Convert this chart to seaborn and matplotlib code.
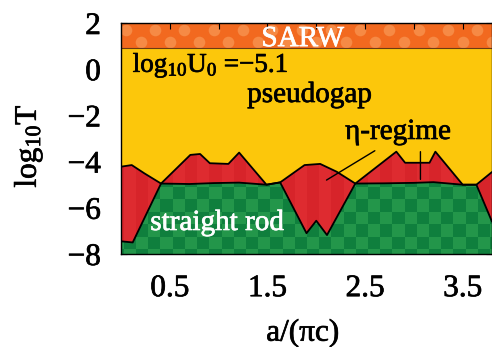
import numpy as np
import matplotlib
matplotlib.use("Agg")
import matplotlib.pyplot as plt
import matplotlib.patheffects as pe
import seaborn as sns

# Phase diagram: log10 T versus a/(pi c) at log10 U0 = -5.1
# upper edge of the eta-regime (red) region
x_eta = [0.00, 0.11, 0.24, 0.41, 0.71, 0.81, 0.91, 1.10, 1.21, 1.49, 1.63,
         1.88, 2.04, 2.21, 2.40, 2.82, 2.91, 3.16, 3.22, 3.50, 3.64, 3.80]
eta_top = [-4.22, -4.15, -4.51, -4.95, -3.71, -3.67, -4.07, -4.10, -3.61, -5.00, -4.90,
           -4.15, -4.10, -4.44, -4.95, -3.57, -4.05, -4.05, -3.57, -5.00, -5.00, -4.45]
# upper edge of the straight-rod (green) region
x_rod = [0.00, 0.12, 0.41, 0.70, 0.95, 1.21, 1.49, 1.63, 1.90, 2.00, 2.11,
         2.40, 2.70, 3.00, 3.20, 3.50, 3.64, 3.80]
rod_top = [-7.45, -7.50, -4.95, -4.97, -4.93, -4.91, -5.00, -4.90, -7.10, -6.56, -7.18,
           -4.95, -4.94, -4.92, -4.89, -5.00, -5.00, -6.60]
# lower edge of the SARW region
sarw_edge = 0.9

xticks = [0.5, 1.0, 1.5, 2.0, 2.5, 3.0, 3.5]
xticklabels = ["0.5", "", "1.5", "", "2.5", "", "3.5"]
yticks = [-8, -6, -4, -2, 0, 2]

# leader lines from the eta-regime label into the red region
eta_leaders = [((2.60, -3.53), (2.105, -4.80)), ((3.067, -3.57), (3.067, -4.77))]

XMIN, XMAX, YMIN, YMAX = 0.0, 3.8, -8.0, 2.0

ORANGE, ORANGE_DOT = "#F2691F", "#F68A45"
YELLOW = "#FCC70B"
RED_A, RED_B = "#D7242A", "#DE2B30"
GREEN_A, GREEN_B = "#0F7F3D", "#23964A"

sns.set_theme(style="ticks")
plt.rcParams["font.family"] = ["Liberation Serif", "DejaVu Serif"]
plt.rcParams["mathtext.fontset"] = "custom"
plt.rcParams["mathtext.rm"] = "Liberation Serif"
plt.rcParams["mathtext.it"] = "Liberation Serif:italic"
plt.rcParams["mathtext.default"] = "rm"

fig = plt.figure(figsize=(4.92, 3.47), dpi=100)
ax = fig.add_axes([121 / 492, 93 / 347, 371 / 492, 231 / 347])


def rgb(h):
    return np.array(matplotlib.colors.to_rgb(h))


def heavy(color):
    # slightly thicken glyph strokes
    return [pe.Stroke(linewidth=0.5, foreground=color), pe.Normal()]


# SARW band with a light polka-dot texture
ax.axhspan(sarw_edge, YMAX, color=ORANGE, lw=0, zorder=0)
row_a = np.arange(0.05, XMAX + 0.2, 0.3)
row_b = np.arange(0.20, XMAX + 0.2, 0.3)
dot_x = np.concatenate([row_a, row_b])
dot_y = np.concatenate([np.full(len(row_a), 1.68), np.full(len(row_b), 1.18)])
ax.scatter(dot_x, dot_y, s=70, color=ORANGE_DOT, lw=0, zorder=0.5)

# pseudogap background
ax.axhspan(YMIN, sarw_edge, color=YELLOW, lw=0, zorder=1)
ax.axhline(sarw_edge, color="#6b3a12", lw=0.8, zorder=1.5)

# eta-regime with faint vertical stripes
red_poly = ax.fill_between(x_eta, YMIN, eta_top, color=RED_A, lw=0, zorder=2)
ncol = 32
stripes = np.array([[rgb(RED_A) if i % 2 == 0 else rgb(RED_B) for i in range(ncol)]])
im_r = ax.imshow(stripes, extent=[-0.095, -0.095 + ncol * 0.125, YMIN, YMAX],
                 origin="lower", interpolation="nearest", aspect="auto", zorder=2.1)
im_r.set_clip_path(red_poly.get_paths()[0], transform=ax.transData)

# straight-rod region with a checkerboard texture
green_poly = ax.fill_between(x_rod, YMIN, rod_top, color=GREEN_A, lw=0, zorder=3)
nrow = 21
checker = np.array([[rgb(GREEN_A) if (i + j) % 2 == 0 else rgb(GREEN_B)
                     for i in range(ncol)] for j in range(nrow)])
im_g = ax.imshow(checker, extent=[-0.095, -0.095 + ncol * 0.125, -8.33, -8.33 + nrow * 0.54],
                 origin="lower", interpolation="nearest", aspect="auto", zorder=3.1)
im_g.set_clip_path(green_poly.get_paths()[0], transform=ax.transData)

# phase boundaries
sns.lineplot(x=x_eta, y=eta_top, color="black", lw=1.3, estimator=None, ax=ax, zorder=4)
sns.lineplot(x=x_rod, y=rod_top, color="black", lw=1.3, estimator=None, ax=ax, zorder=4)

for (x0, y0), (x1, y1) in eta_leaders:
    ax.annotate("", xy=(x1, y1), xytext=(x0, y0),
                arrowprops=dict(arrowstyle="-", color="black", lw=1.0, shrinkA=0, shrinkB=0),
                zorder=5)

# region labels
ax.text(1.86, 1.0, "SARW", color="white", fontsize=21, ha="center", va="baseline",
        zorder=6, path_effects=heavy("white"))
ax.text(0.12, -0.12, "log$_{10}$U$_0$ =\u22125.1", color="black", fontsize=19.5,
        ha="left", va="baseline", zorder=6, path_effects=heavy("black"))
ax.text(1.93, -1.42, "pseudogap", color="black", fontsize=21, ha="center", va="baseline",
        zorder=6, path_effects=heavy("black"))
ax.text(2.835, -3.02, "\u03b7-regime", color="black", fontsize=21, ha="center", va="baseline",
        zorder=6, path_effects=heavy("black"))
ax.text(0.30, -6.96, "straight rod", color="white", fontsize=21, ha="left", va="baseline",
        zorder=6, path_effects=heavy("white"))

ax.set_xlim(XMIN, XMAX)
ax.set_ylim(YMIN, YMAX)
ax.set_xticks(xticks)
ax.set_xticklabels(xticklabels)
ax.set_yticks(yticks)
ax.tick_params(direction="in", length=4, width=0.8, color="black", top=True, right=True,
               labelsize=22.5, pad=14.5, labelcolor="black")
for lab in ax.get_xticklabels() + ax.get_yticklabels():
    lab.set_path_effects(heavy("black"))
for sp in ax.spines.values():
    sp.set_color("black")
    sp.set_linewidth(1.0)
    sp.set_zorder(7)

ax.set_xlabel("a/(\u03c0c)", fontsize=22.5, color="black", path_effects=heavy("black"))
ax.set_ylabel("log$_{10}$T", fontsize=22.5, color="black", path_effects=heavy("black"))
ax.xaxis.set_label_coords(0.49, -0.28)
ax.yaxis.set_label_coords(-0.205, 0.468)

fig.savefig("out.png", dpi=100)
